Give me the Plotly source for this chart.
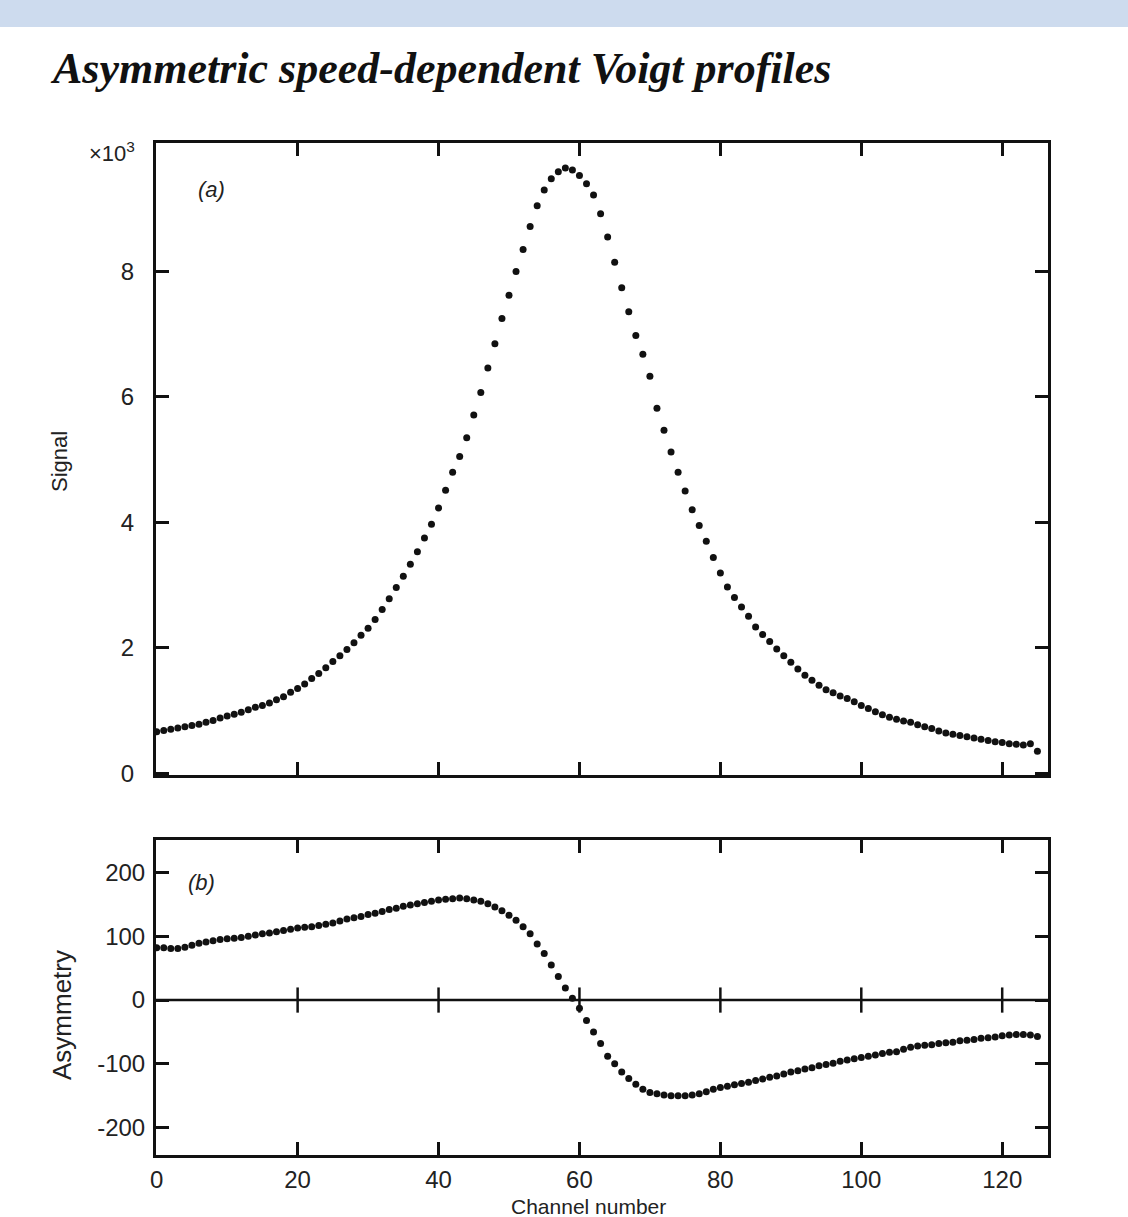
import plotly.graph_objects as go

# ---------------- data ----------------
channel = list(range(126))

signal_k = [
    0.66, 0.68, 0.70, 0.72, 0.74, 0.76, 0.78, 0.81, 0.84, 0.88,
    0.91, 0.94, 0.97, 1.01, 1.05, 1.08, 1.12, 1.17, 1.22, 1.29,
    1.35, 1.42, 1.51, 1.59, 1.68, 1.78, 1.87, 1.97, 2.08, 2.20,
    2.31, 2.45, 2.61, 2.78, 2.96, 3.14, 3.33, 3.53, 3.75, 3.97,
    4.23, 4.51, 4.80, 5.05, 5.35, 5.71, 6.07, 6.46, 6.85, 7.25,
    7.62, 8.00, 8.35, 8.72, 9.05, 9.30, 9.48, 9.59, 9.65, 9.62,
    9.53, 9.40, 9.22, 8.92, 8.55, 8.15, 7.74, 7.36, 6.98, 6.68,
    6.33, 5.82, 5.47, 5.12, 4.80, 4.50, 4.20, 3.95, 3.70, 3.44,
    3.19, 2.97, 2.80, 2.65, 2.50, 2.33, 2.21, 2.10, 1.98, 1.87,
    1.77, 1.66, 1.56, 1.48, 1.40, 1.33, 1.28, 1.23, 1.19, 1.14,
    1.08, 1.03, 0.98, 0.93, 0.89, 0.86, 0.83, 0.81, 0.77, 0.74,
    0.71, 0.67, 0.64, 0.62, 0.60, 0.58, 0.56, 0.54, 0.52, 0.50,
    0.49, 0.47, 0.46, 0.45, 0.47, 0.35,
]

asymmetry = [
    82, 82, 81, 81, 83, 86, 89, 91, 93, 95,
    96, 97, 98, 100, 102, 104, 105, 107, 109, 111,
    113, 114, 115, 117, 119, 121, 124, 127, 129, 131,
    134, 136, 139, 142, 144, 147, 149, 151, 153, 155,
    157, 158, 159, 160, 159, 157, 155, 151, 146, 140,
    133, 125, 115, 104, 88, 73, 55, 37, 19, 3,
    -13, -32, -50, -68, -88, -100, -113, -123, -132, -140,
    -145, -147, -149, -150, -150, -150, -149, -147, -144, -140,
    -137, -135, -133, -131, -129, -126, -124, -121, -119, -116,
    -113, -111, -108, -106, -103, -101, -99, -96, -94, -92,
    -90, -88, -86, -84, -82, -81, -77, -74, -72, -71,
    -70, -68, -67, -66, -64, -63, -62, -60, -59, -58,
    -56, -55, -54, -54, -55, -57,
]

x_ticks = [0, 20, 40, 60, 80, 100, 120]
signal_ticks = [0, 2, 4, 6, 8]
asym_ticks = [-200, -100, 0, 100, 200]
asym_tick_text = ["-200", "-100", "0", "100", "200"]
zero_cross_ticks = [20, 40, 60, 80, 100, 120]

# ---------------- figure ----------------
W, H = 1128, 1217
L, R, T, B = 156, 80, 143, 62
PW, PH = W - L - R, H - T - B

def py(y):  # pixel y -> paper y
    return (H - B - y) / PH

def px(x):  # pixel x -> paper x
    return (x - L) / PW

INK = "#111111"
TXT = "#222222"
TICKFONT = dict(family="Liberation Sans", size=24, color=TXT)

fig = go.Figure()

fig.add_trace(go.Scatter(
    x=channel, y=signal_k, mode="markers",
    marker=dict(size=7, color=INK), xaxis="x", yaxis="y", showlegend=False,
))
fig.add_trace(go.Scatter(
    x=channel, y=asymmetry, mode="markers",
    marker=dict(size=7, color=INK), xaxis="x2", yaxis="y2", showlegend=False,
))
# crosses on the zero line of panel (b)
fig.add_trace(go.Scatter(
    x=zero_cross_ticks, y=[0] * len(zero_cross_ticks), mode="markers",
    marker=dict(symbol="line-ns", size=18, line=dict(width=2.5, color=INK)),
    xaxis="x2", yaxis="y2", showlegend=False, hoverinfo="skip",
))

axis_common = dict(
    showline=True, linecolor=INK, linewidth=3, mirror="ticks",
    ticks="inside", tickcolor=INK, tickwidth=2.5, ticklen=13,
    showgrid=False, zeroline=False, tickfont=TICKFONT,
)

xr = [-0.1, 126.5]
fig.update_layout(
    width=W, height=H,
    margin=dict(l=L, r=R, t=T, b=B),
    paper_bgcolor="white", plot_bgcolor="white",
    xaxis=dict(domain=[0, 1], anchor="y", range=xr, tickvals=x_ticks,
               showticklabels=False, **axis_common),
    yaxis=dict(domain=[py(775), 1], anchor="x", range=[-0.03, 10.05],
               tickvals=signal_ticks, ticklabelstandoff=14, **axis_common),
    xaxis2=dict(domain=[0, 1], anchor="y2", range=xr, tickvals=x_ticks,
                ticklabelstandoff=1, **axis_common),
    yaxis2=dict(domain=[0, py(840)], anchor="x2", range=[-243, 251],
                tickvals=asym_ticks, ticktext=asym_tick_text,
                ticklabelstandoff=3, **axis_common),
    shapes=[
        dict(type="rect", xref="paper", yref="paper", x0=px(-5), x1=px(W + 5),
             y0=py(27), y1=py(-5), fillcolor="#cddbee", line=dict(width=0),
             layer="below"),
        dict(type="line", xref="x2", yref="y2", x0=xr[0], x1=xr[1], y0=0, y1=0,
             line=dict(color=INK, width=2.5)),
    ],
    annotations=[
        dict(text="<b><i>Asymmetric speed-dependent Voigt profiles</i></b>",
             xref="paper", yref="paper", x=px(48), y=py(68), xanchor="left",
             yanchor="middle", showarrow=False,
             font=dict(family="Liberation Serif", size=44, color=INK)),
        dict(text="×10<sup>3</sup>", xref="paper", yref="paper", x=px(137),
             y=py(152), xanchor="right", yanchor="middle", showarrow=False,
             font=dict(family="Liberation Sans", size=22, color=TXT)),
        dict(text="<i>(a)</i>", xref="paper", yref="paper", x=px(196),
             y=py(190), xanchor="left", yanchor="middle", showarrow=False,
             font=dict(family="Liberation Sans", size=22, color=TXT)),
        dict(text="<i>(b)</i>", xref="paper", yref="paper", x=px(186),
             y=py(882), xanchor="left", yanchor="middle", showarrow=False,
             font=dict(family="Liberation Sans", size=22, color=TXT)),
        dict(text="Signal", xref="paper", yref="paper", x=px(60),
             y=py(462), xanchor="center", yanchor="middle", textangle=-90,
             showarrow=False,
             font=dict(family="Liberation Sans", size=22, color=TXT)),
        dict(text="Asymmetry", xref="paper", yref="paper", x=px(62),
             y=py(1015), xanchor="center", yanchor="middle", textangle=-90,
             showarrow=False,
             font=dict(family="Liberation Sans", size=26, color=TXT)),
        dict(text="Channel number", xref="paper", yref="paper", x=px(588),
             y=py(1220), xanchor="center", yanchor="bottom", showarrow=False,
             font=dict(family="Liberation Sans", size=21, color=TXT)),
    ],
)

fig.write_html("out.html", config={"displayModeBar": False},
               post_script="document.body.style.margin='0';")
